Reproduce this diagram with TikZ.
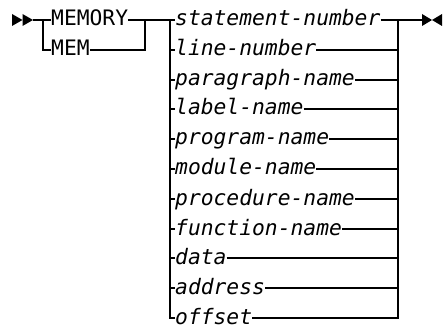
\documentclass[tikz,border=0pt]{standalone}
\usepackage{fontspec}
\newfontfamily\rrfont{DejaVu Sans Mono}
\begin{document}
\begin{tikzpicture}[x=1pt,y=-1pt,
  rr/.style={line width=2pt},
  kw/.style={inner sep=0pt, anchor=west, text height=13pt, text depth=1pt,
    font=\rrfont\fontsize{21.3}{25}\selectfont},
  vr/.style={kw, font=\rrfont\itshape\fontsize{21.3}{25}\selectfont},
  tipfill/.style={fill=black, draw=none}]
\useasboundingbox (0,0) rectangle (443,328);
% start marker
\fill[tipfill] (12,14) -- (22.5,20) -- (12,26) -- cycle;
\fill[tipfill] (22.5,14) -- (33,20) -- (22.5,26) -- cycle;
\coordinate (start) at (33,20);
\coordinate (b1) at (43,20);
\node[kw] (memory) at (51,20) {MEMORY};
\node[kw] (mem) at (51,50) {MEM};
\coordinate (j1) at (145,20);
\coordinate (v1) at (170,20);
\coordinate (v2) at (398,20);
\coordinate (endp) at (422,20);
\foreach \lbl [count=\i] in {statement-number,line-number,paragraph-name,label-name,program-name,module-name,procedure-name,function-name,data,address,offset}{
  \node[vr] (l\i) at (175,{round(20+29.8*(\i-1))}) {\lbl};
}
\draw[rr] (start) -- (memory.west);
\draw[rr] (b1) |- (mem.west);
\draw[rr] (memory.east) -- (v1);
\draw[rr] (mem.east) -| (j1);
\draw[rr] (v1) |- (l11.west);
\foreach \i in {1,...,10}{
  \draw[rr] (v1 |- l\i.west) -- (l\i.west);
  \draw[rr] (l\i.east) -- (v2 |- l\i.east);
}
\draw[rr] (l11.east) -| (v2);
\draw[rr] (v2) -- (endp);
% end marker
\fill[tipfill] (422,14) -- (432,20) -- (422,26) -- cycle;
\fill[tipfill] (442,14) -- (432,20) -- (442,26) -- cycle;
\end{tikzpicture}
\end{document}
